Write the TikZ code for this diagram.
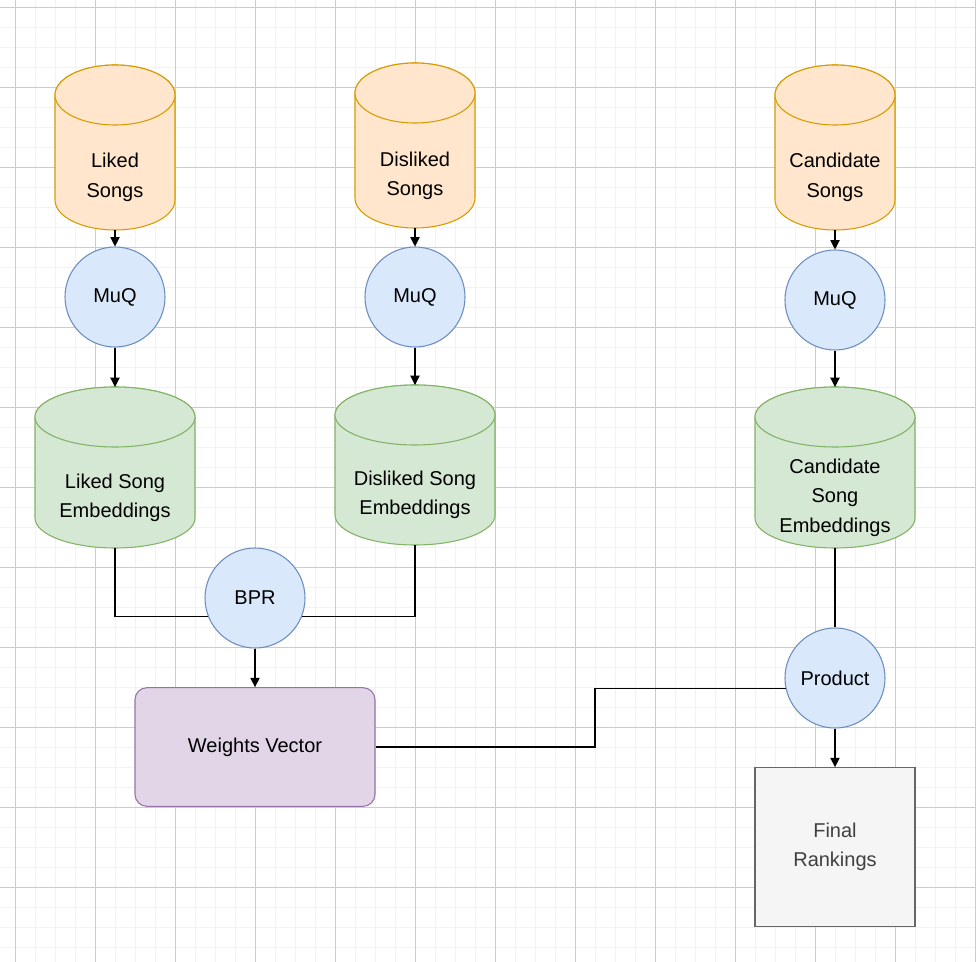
\documentclass[tikz,border=0pt]{standalone}
\usepackage{fontspec}
\setmainfont{Liberation Sans}
\usetikzlibrary{arrows.meta}

\definecolor{songfill}{HTML}{FFE6CC}\definecolor{songline}{HTML}{D79B00}
\definecolor{opfill}{HTML}{DAE8FC}\definecolor{opline}{HTML}{6C8EBF}
\definecolor{embfill}{HTML}{D5E8D4}\definecolor{embline}{HTML}{82B366}
\definecolor{vecfill}{HTML}{E1D5E7}\definecolor{vecline}{HTML}{9673A6}
\definecolor{rankfill}{HTML}{F5F5F5}\definecolor{rankline}{HTML}{666666}

\tikzset{
  songdb/.style={fill=songfill, draw=songline},
  embdb/.style={fill=embfill, draw=embline},
  op/.style={circle, fill=opfill, draw=opline, minimum size=75pt, inner sep=0pt},
  flow/.style={-{Triangle[length=7pt,width=7pt]}},
}

% cylinder: name, center x, top y, bottom y, half width, style, text
\newcommand{\dbcyl}[7]{%
  \draw[#6] (#2-#5,#3+30) -- (#2-#5,#4-30) arc[start angle=180, end angle=0, x radius=#5, y radius=30]
    -- (#2+#5,#3+30) arc[start angle=0, end angle=-180, x radius=#5, y radius=30] -- cycle;
  \draw[#6] (#2,#3+30) ellipse[x radius=#5, y radius=30];
  \node[align=center] (#1) at (#2,{(#3+60+#4)/2}) {#7};
  \coordinate (#1-t) at (#2,#3);
  \coordinate (#1-b) at (#2,#4);
}

\begin{document}
\begin{tikzpicture}[x=0.75pt, y=-0.75pt, line width=0.8pt, font=\fontsize{15}{22}\selectfont]
  \useasboundingbox (0,0) rectangle (976,962);
  % grid
  \foreach \g in {-5,15,...,975} \draw[line width=0.5pt, black!5] (\g,0) -- (\g,962);
  \foreach \g in {7,27,...,962} \draw[line width=0.5pt, black!5] (0,\g) -- (976,\g);
  \foreach \g in {15,95,...,975} \draw[line width=0.5pt, black!20] (\g,0) -- (\g,962);
  \foreach \g in {7,87,...,962} \draw[line width=0.5pt, black!20] (0,\g) -- (976,\g);

  % songs
  \dbcyl{liked}{115}{65}{230}{60}{songdb}{Liked\\Songs}
  \dbcyl{disliked}{415}{63}{228}{60}{songdb}{Disliked\\Songs}
  \dbcyl{cand}{835}{65}{230}{60}{songdb}{Candidate\\Songs}

  % encoders
  \node[op] (muq1) at (115,297) {MuQ};
  \node[op] (muq2) at (415,297) {MuQ};
  \node[op] (muq3) at (835,300) {MuQ};

  % embeddings
  \dbcyl{likedemb}{115}{387}{548}{80}{embdb}{Liked Song\\Embeddings}
  \dbcyl{dislikedemb}{415}{385}{545}{80}{embdb}{Disliked Song\\Embeddings}
  \dbcyl{candemb}{835}{387}{548}{80}{embdb}{Candidate\\Song\\Embeddings}

  \node[op] (bpr) at (255,598) {BPR};
  \node[op] (prod) at (835,678) {Product};
  \node[rectangle, rounded corners=9pt, fill=vecfill, draw=vecline, minimum width=180pt, minimum height=89pt] (weights) at (255,747) {Weights Vector};
  \node[rectangle, fill=rankfill, draw=rankline, text=black!75, minimum width=120pt, minimum height=119pt, align=center] (rank) at (835,847) {Final\\Rankings};

  \draw[flow] (liked-b) -- (muq1);
  \draw[flow] (disliked-b) -- (muq2);
  \draw[flow] (cand-b) -- (muq3);
  \draw[flow] (muq1) -- (likedemb-t);
  \draw[flow] (muq2) -- (dislikedemb-t);
  \draw[flow] (muq3) -- (candemb-t);

  \draw (likedemb-b) |- (bpr.202);
  \draw (dislikedemb-b) |- (bpr.338);
  \draw[flow] (bpr) -- (weights);
  \draw (candemb-b) -- (prod);
  \coordinate (bend) at (595,747);
  \draw (weights.east) -- (bend) |- (prod.192);
  \draw[flow] (prod) -- (rank);
\end{tikzpicture}
\end{document}
